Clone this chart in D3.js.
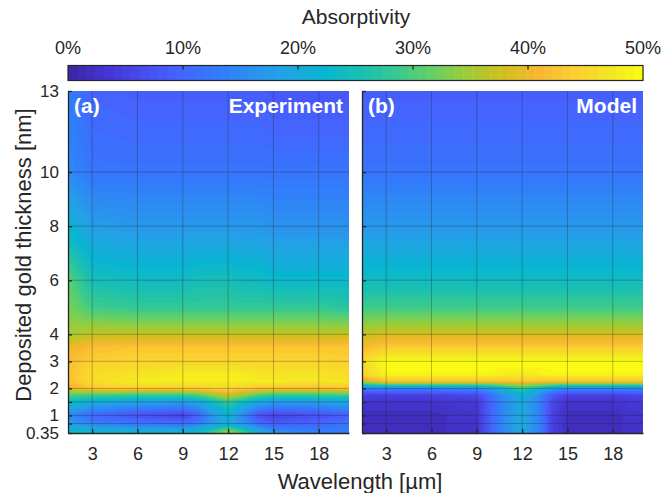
<!DOCTYPE html>
<html><head><meta charset="utf-8">
<script src="https://cdn.jsdelivr.net/npm/d3@7"></script>
<style>
body{margin:0;background:#fff}
svg{display:block;font-family:"Liberation Sans",Arial,Helvetica,sans-serif}
</style>
</head><body>
<svg id="chart" width="662" height="493"></svg>
<script>
// ---- data (absorptivity in %) ----
const wavelength = [1.4, 3, 6, 9, 10, 11, 12, 13, 14, 15, 18, 20];
const thickness  = [0.35, 0.7, 1, 1.5, 1.75, 2, 2.25, 2.5, 3, 3.5, 4, 5, 6, 8, 10, 13];
const experiment = [
  [25, 24, 23, 23, 25, 30, 37, 30, 22, 17, 14, 14],
  [18, 14, 12, 11, 13, 17, 20, 16, 11,  9, 10, 12],
  [15, 10,  7,  5,  9, 17, 22, 14,  7,  5,  7,  9],
  [24, 21, 19, 18, 20, 24, 28, 24, 20, 18, 18, 20],
  [30, 29, 28, 28, 30, 34, 38, 34, 30, 28, 28, 29],
  [39, 43, 44, 44, 44, 45, 45, 44, 43, 42, 42, 43],
  [42, 46, 48, 48, 48, 48, 48, 48, 48, 48, 47, 47],
  [42, 46, 47, 48, 48, 48, 48, 48, 47, 47, 47, 46],
  [42, 44, 45, 45, 45, 45, 45, 45, 45, 45, 45, 44],
  [40, 42, 43, 43, 43, 43, 43, 43, 43, 43, 43, 43],
  [35, 37, 37, 37, 37, 37, 37, 37, 37, 37, 37, 37],
  [33, 29, 28, 28, 28, 28, 28, 28, 28, 28, 28, 27],
  [31, 25, 24, 24, 25, 25, 25, 24, 24, 23, 23, 23],
  [22, 18, 17, 17, 17, 17, 17, 17, 17, 16, 16, 16],
  [15, 12, 12, 12, 12, 12, 12, 12, 12, 12, 12, 12],
  [13, 10,  9,  9,  9,  9,  9,  9,  9,  8,  8,  8]
];
const model = [
  [ 2,  2,  2,  3, 10, 16, 20, 15,  5,  2,  2,  3],
  [ 2,  2,  2,  3, 10, 16, 20, 15,  5,  2,  2,  3],
  [ 2,  2,  2,  3, 10, 16, 20, 15,  5,  2,  2,  3],
  [ 3,  3,  3,  4, 10, 16, 20, 15,  6,  3,  3,  4],
  [ 5,  5,  5,  6, 12, 17, 22, 16,  8,  5,  5,  6],
  [13, 14, 14, 15, 18, 24, 28, 24, 18, 15, 15, 15],
  [36, 42, 42, 42, 42, 42, 42, 42, 42, 42, 42, 42],
  [44, 49, 49, 49, 49, 48, 48, 48, 49, 49, 49, 49],
  [46, 50, 50, 50, 50, 50, 50, 50, 50, 50, 50, 50],
  [41, 44, 44, 44, 44, 44, 44, 44, 44, 44, 44, 44],
  [37, 38, 38, 38, 38, 38, 38, 38, 38, 38, 38, 38],
  [29, 29, 29, 29, 29, 29, 29, 29, 29, 29, 29, 29],
  [24, 24, 24, 24, 24, 24, 24, 24, 24, 24, 24, 24],
  [17, 17, 17, 17, 17, 17, 17, 17, 17, 17, 17, 17],
  [12, 12, 12, 12, 12, 12, 12, 12, 12, 12, 12, 12],
  [ 9,  9,  9,  9,  9,  9,  9,  9,  9,  9,  9,  9]
];
const xTicks = [3, 6, 9, 12, 15, 18];
const yTicks = [0.35, 0.7, 1, 1.5, 2, 3, 4, 6, 8, 10, 13];
const yTickLabels = ["0.35", "", "1", "", "2", "3", "4", "6", "8", "10", "13"];
const cbTicks = [0, 10, 20, 30, 40, 50];
const panels = [
  {id: "(a)", name: "Experiment", data: experiment, showY: true},
  {id: "(b)", name: "Model", data: model, showY: false}
];

// ---- parula colormap (64 levels) ----
const parulaPos = [0, 0.0635, 0.127, 0.19, 0.254, 0.317, 0.381, 0.444, 0.508, 0.571, 0.635, 0.698, 0.762, 0.825, 0.889, 0.952, 1];
const parulaRGB = [
  [0.2422,0.1504,0.6603],[0.2706,0.2147,0.8364],[0.2813,0.3006,0.9414],[0.2699,0.3892,0.9906],
  [0.1963,0.4847,0.9892],[0.1687,0.5703,0.9359],[0.1248,0.6459,0.8883],[0.0297,0.7082,0.8163],
  [0.0964,0.7489,0.7076],[0.2161,0.7868,0.5690],[0.3909,0.8162,0.3927],[0.6174,0.7990,0.2196],
  [0.8203,0.7483,0.1154],[0.9728,0.7186,0.1938],[0.9886,0.8151,0.1900],[0.9608,0.9030,0.1373],
  [0.9769,0.9839,0.0805]
];
const parula = d3.scaleLinear().domain(parulaPos)
  .range(parulaRGB.map(c => d3.rgb(c[0]*255, c[1]*255, c[2]*255).toString()))
  .interpolate(d3.interpolateRgb).clamp(true);
const levels = d3.range(64).map(i => parula(i/63));
const color = d3.scaleQuantize().domain([0, 50]).range(levels);

// ---- layout ----
const svg = d3.select("#chart");
const plotTop = 91, plotBottom = 433;
const panelX = [[68, 349], [362, 643]];
const y = d3.scaleLinear().domain([0.35, 13]).range([plotBottom, plotTop]);
const axisCol = "#262626";

function interp(data, w, t) {
  let i = Math.max(0, Math.min(wavelength.length - 2, d3.bisectRight(wavelength, w) - 1));
  let j = Math.max(0, Math.min(thickness.length - 2, d3.bisectRight(thickness, t) - 1));
  const fx = Math.max(0, Math.min(1, (w - wavelength[i]) / (wavelength[i+1] - wavelength[i])));
  const fy = Math.max(0, Math.min(1, (t - thickness[j]) / (thickness[j+1] - thickness[j])));
  const a = data[j][i], b = data[j][i+1], c = data[j+1][i], d = data[j+1][i+1];
  return (a*(1-fx) + b*fx)*(1-fy) + (c*(1-fx) + d*fx)*fy;
}

panels.forEach((p, k) => {
  const [x0, x1] = panelX[k];
  const x = d3.scaleLinear().domain([1.4, 20]).range([x0, x1]);
  const W = x1 - x0, H = plotBottom - plotTop;
  const cv = document.createElement("canvas");
  cv.width = W; cv.height = H;
  const ctx = cv.getContext("2d");
  const img = ctx.createImageData(W, H);
  for (let py = 0; py < H; py++) {
    const t = y.invert(plotTop + py + 0.5);
    for (let px = 0; px < W; px++) {
      const w = x.invert(x0 + px + 0.5);
      const c = d3.rgb(color(interp(p.data, w, t)));
      const o = (py*W + px)*4;
      img.data[o] = c.r; img.data[o+1] = c.g; img.data[o+2] = c.b; img.data[o+3] = 255;
    }
  }
  ctx.putImageData(img, 0, 0);
  const g = svg.append("g");
  g.append("image").attr("x", x0).attr("y", plotTop).attr("width", W).attr("height", H)
    .attr("href", cv.toDataURL());

  // grid
  g.selectAll(".gx").data(xTicks).join("line")
    .attr("x1", d => x(d)).attr("x2", d => x(d)).attr("y1", plotTop).attr("y2", plotBottom)
    .attr("stroke", axisCol).attr("stroke-opacity", 0.3).attr("stroke-width", 1);
  g.selectAll(".gy").data(yTicks.filter(d => d > 0.35 && d < 13)).join("line")
    .attr("x1", x0).attr("x2", x1).attr("y1", d => y(d)).attr("y2", d => y(d))
    .attr("stroke", axisCol).attr("stroke-opacity", 0.3).attr("stroke-width", 1);

  // x axis
  const xa = g.append("g").attr("transform", `translate(0,${plotBottom})`)
    .call(d3.axisBottom(x).tickValues(xTicks).tickSizeInner(-4).tickSizeOuter(0).tickPadding(14));
  xa.select(".domain").attr("stroke", axisCol).attr("stroke-width", 1.3);
  xa.selectAll(".tick line").attr("stroke", axisCol).attr("stroke-width", 1.3);
  xa.selectAll("text").attr("font-size", 18).attr("fill", axisCol).attr("font-family", null);

  // y axis
  const ya = g.append("g").attr("transform", `translate(${x0},0)`)
    .call(d3.axisLeft(y).tickValues(yTicks).tickSizeInner(-4).tickSizeOuter(0).tickPadding(9)
      .tickFormat((d, i) => p.showY ? yTickLabels[i] : ""));
  ya.select(".domain").attr("stroke", axisCol).attr("stroke-width", 1.3);
  ya.selectAll(".tick line").attr("stroke", axisCol).attr("stroke-width", 1.3);
  ya.selectAll("text").attr("font-size", 17).attr("fill", axisCol).attr("font-family", null);

  // panel labels
  g.append("text").attr("x", x0 + 6).attr("y", plotTop + 22).attr("fill", "#fff")
    .attr("font-size", 21).attr("font-weight", "bold").text(p.id);
  g.append("text").attr("x", x1 - 6).attr("y", plotTop + 22).attr("fill", "#fff")
    .attr("text-anchor", "end").attr("font-size", 21).attr("font-weight", "bold").text(p.name);
});

// axis titles
svg.append("text").attr("x", 360).attr("y", 489).attr("text-anchor", "middle")
  .attr("font-size", 22).attr("fill", axisCol).text("Wavelength [µm]");
svg.append("text").attr("transform", "translate(31,255) rotate(-90)").attr("text-anchor", "middle")
  .attr("font-size", 22).attr("fill", axisCol).text("Deposited gold thickness [nm]");

// colorbar
const cbX = d3.scaleLinear().domain([0, 50]).range([68, 643]);
const cbTop = 65.5, cbH = 15;
const cb = svg.append("g");
cb.selectAll("rect.c").data(levels).join("rect")
  .attr("x", (d, i) => cbX(i*50/64)).attr("width", (d, i) => cbX((i+1)*50/64) - cbX(i*50/64) + 0.5)
  .attr("y", cbTop).attr("height", cbH).attr("fill", d => d);
cb.append("rect").attr("x", 68).attr("y", cbTop).attr("width", 575).attr("height", cbH)
  .attr("fill", "none").attr("stroke", axisCol).attr("stroke-width", 1.2);
cb.selectAll("line.t").data(cbTicks.slice(1, -1)).join("line")
  .attr("x1", d => cbX(d)).attr("x2", d => cbX(d)).attr("y1", cbTop).attr("y2", cbTop + 4)
  .attr("stroke", axisCol).attr("stroke-width", 1.3);
cb.selectAll("text.t").data(cbTicks).join("text")
  .attr("x", d => cbX(d)).attr("y", 54).attr("text-anchor", "middle")
  .attr("font-size", 18).attr("fill", axisCol).text(d => d + "%");
cb.append("text").attr("x", 356).attr("y", 24).attr("text-anchor", "middle")
  .attr("font-size", 21).attr("fill", axisCol).text("Absorptivity");
</script>
</body></html>
